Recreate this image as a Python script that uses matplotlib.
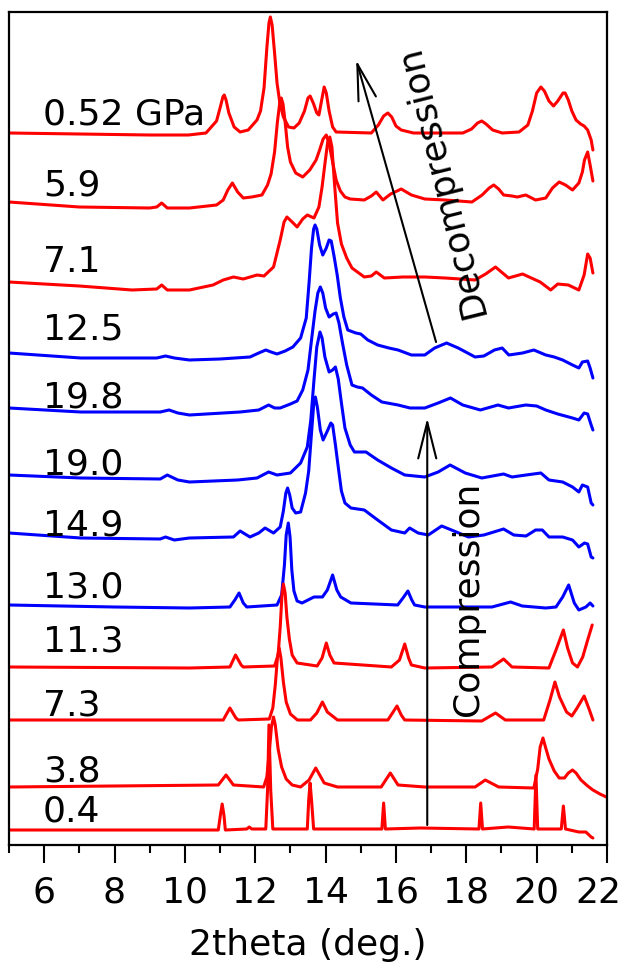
import matplotlib
matplotlib.use("Agg")
from matplotlib import pyplot as plt
from matplotlib.transforms import ScaledTranslation

plt.rcParams["font.family"] = ["DejaVu Sans"]

# pressure labels (top to bottom), colours and vertical offsets (a.u.)
labels = ["0.52 GPa", "5.9", "7.1", "12.5", "19.8", "19.0",
          "14.9", "13.0", "11.3", "7.3", "3.8", "0.4"]
colors = ["red", "red", "red", "blue", "blue", "blue",
          "blue", "blue", "red", "red", "red", "red"]
offsets = [712, 643, 563, 492, 437, 370, 312, 240, 178, 125, 58, 15]
label_y = [721, 650, 573, 505, 438, 371, 310, 247, 193, 130, 63, 23]

# 0.52 GPa (decompression)
tt_052 = [5.0, 7.0, 9.0, 10.1, 10.6, 10.9, 11.0, 11.08, 11.12, 11.17, 11.25, 11.4, 11.57,
          11.8, 12.05, 12.15, 12.25, 12.33, 12.39, 12.43, 12.48, 12.55, 12.62, 12.7, 12.8,
          12.95, 13.1, 13.25, 13.4, 13.5, 13.56, 13.65, 13.75, 13.81, 13.9, 13.96, 14.02,
          14.1, 14.2, 14.3, 15.3, 15.5, 15.65, 15.77, 15.88, 16.0, 16.15, 16.5, 17.9,
          18.15, 18.32, 18.44, 18.56, 18.75, 19.02, 19.5, 19.75, 19.88, 20.0, 20.12, 20.22,
          20.35, 20.48, 20.6, 20.75, 20.81, 20.9, 21.0, 21.12, 21.25, 21.35, 21.45, 21.55,
          21.6]
I_052 = [0, -1, -2, -2, 0, 12, 25, 36, 38, 33, 20, 6, 1,
         3, 13, 22, 45, 85, 110, 116, 108, 80, 50, 30, 16,
         6, 5, 10, 22, 35, 37, 30, 20, 18, 35, 46, 40,
         22, 6, 1, 0, 8, 17, 20, 16, 7, 3, 0, 0,
         4, 10, 12, 9, 3, 0, 1, 8, 22, 40, 46, 42,
         32, 27, 32, 40, 40, 33, 22, 13, 9, 7, 3, -7,
         -17]

# 5.9 GPa
tt_59 = [5.0, 7.0, 9.0, 9.2, 9.34, 9.5, 10.13, 10.9, 11.09, 11.22, 11.35, 11.5, 11.66,
         11.9, 12.19, 12.35, 12.45, 12.55, 12.63, 12.7, 12.74, 12.79, 12.85, 12.92, 13.0,
         13.15, 13.35, 13.55, 13.73, 13.83, 13.93, 14.02, 14.1, 14.2, 14.3, 14.42, 14.55,
         14.7, 15.1, 15.3, 15.44, 15.63, 15.85, 16.15, 16.44, 16.82, 17.4, 18.16, 18.45,
         18.65, 18.78, 18.92, 19.06, 19.3, 19.45, 19.69, 19.97, 20.26, 20.45, 20.64, 20.82,
         21.02, 21.2, 21.3, 21.36, 21.45, 21.52, 21.6]
I_59 = [0, -5, -6, -5, -1, -6, -6, -3, 2, 12, 19, 10, 4,
        5, 7, 17, 28, 50, 80, 100, 104, 98, 80, 55, 40,
        29, 25, 32, 42, 52, 63, 67, 58, 40, 22, 11, 5,
        3, 2, 6, 10, 2, 8, 13, 7, 3, 2, 0, 7,
        14, 17, 13, 7, 6, 5, 7, 2, 4, 14, 20, 17,
        12, 19, 30, 42, 50, 37, 21]

# 7.1 GPa
tt_71 = [5.0, 7.0, 8.5, 9.2, 9.34, 9.5, 10.13, 10.8, 11.09, 11.38, 11.66, 12.05, 12.25,
         12.52, 12.71, 12.82, 12.9, 13.05, 13.19, 13.35, 13.48, 13.67, 13.81, 13.9, 13.98,
         14.06, 14.12, 14.18, 14.25, 14.34, 14.45, 14.6, 14.75, 15.1, 15.3, 15.44, 15.67,
         16.2, 16.82, 17.4, 18.25, 18.55, 18.83, 19.2, 19.6, 20.1, 20.4, 20.6, 20.9,
         21.2, 21.35, 21.45, 21.52, 21.6]
I_71 = [0, -4, -8, -7, -3, -8, -8, -3, 2, 5, 3, 7, 6,
        15, 42, 60, 65, 60, 55, 63, 67, 64, 75, 95, 118,
        140, 145, 135, 100, 59, 38, 24, 14, 5, 6, 10, 4,
        5, 5, 4, 2, 8, 15, 4, 8, 0, -8, -2, -3,
        -8, 7, 28, 24, 9]

# 12.5 GPa
tt_125 = [5.0, 7.04, 9.2, 9.45, 9.7, 10.13, 11.0, 11.85, 12.1, 12.3, 12.45, 12.62, 12.85,
          13.07, 13.29, 13.45, 13.53, 13.6, 13.66, 13.7, 13.75, 13.83, 13.92, 14.02, 14.1,
          14.16, 14.24, 14.33, 14.42, 14.52, 14.63, 14.86, 15.0, 15.2, 15.48, 15.8, 16.06,
          16.44, 16.82, 17.1, 17.44, 17.77, 18.25, 18.5, 18.8, 19.02, 19.21, 19.6, 19.92,
          20.26, 20.5, 20.74, 21.02, 21.2, 21.3, 21.45, 21.52, 21.6]
I_125 = [0, -5, -5, -3, -5, -7, -6, -4, 0, 3, 1, -1, 2,
         6, 15, 35, 70, 105, 124, 128, 124, 108, 98, 105, 113,
         112, 97, 78, 55, 36, 23, 20, 19, 13, 8, 5, 3,
         -2, -2, 5, 10, 5, -4, -3, 3, 5, -2, 0, 3,
         -2, -4, -7, -12, -15, -9, -8, -15, -25]

# 19.8 GPa
tt_198 = [5.0, 7.04, 9.3, 9.55, 9.8, 10.13, 11.57, 12.1, 12.38, 12.55, 12.71, 13.0, 13.19,
          13.35, 13.5, 13.6, 13.7, 13.78, 13.85, 13.92, 14.0, 14.1, 14.22, 14.3, 14.38,
          14.48, 14.6, 14.75, 14.9, 15.05, 15.3, 15.6, 16.06, 16.4, 16.82, 17.2, 17.55,
          17.9, 18.4, 18.9, 19.2, 19.69, 20.0, 20.26, 20.6, 21.02, 21.2, 21.35, 21.45,
          21.55, 21.6]
I_198 = [0, -4, -4, -2, -5, -7, -4, -2, 3, 0, 0, 4, 7,
         18, 38, 68, 97, 115, 121, 115, 100, 91, 94, 95, 85,
         65, 43, 23, 21, 20, 13, 6, 3, 0, 0, 5, 10,
         3, -2, 3, 0, 3, 2, -2, -6, -10, -12, -5, -6,
         -17, -22]

# 19.0 GPa (decompression start)
tt_190 = [5.0, 7.04, 9.3, 9.5, 9.8, 10.13, 11.5, 12.05, 12.38, 12.62, 13.0, 13.29, 13.48,
          13.58, 13.67, 13.75, 13.84, 13.9, 13.98, 14.1, 14.2, 14.28, 14.36, 14.45, 14.55,
          14.7, 14.82, 15.15, 15.48, 15.87, 16.25, 16.82, 17.2, 17.54, 17.97, 18.44, 19.06,
          19.3, 19.7, 20.12, 20.35, 20.74, 21.02, 21.2, 21.3, 21.45, 21.55, 21.6]
I_190 = [0, -3, -4, 0, -5, -7, -5, -3, 3, 0, 2, 12, 28,
         55, 95, 128, 143, 137, 118, 103, 105, 108, 96, 72, 47,
         30, 23, 23, 15, 7, 0, -2, 3, 10, 2, -3, 1,
         -2, 0, 2, -5, -7, -12, -17, -10, -12, -28, -30]

# 14.9 GPa
tt_149 = [5.0, 7.04, 9.3, 9.45, 9.7, 10.13, 11.38, 11.57, 11.85, 12.1, 12.28, 12.52, 12.71,
          12.8, 12.87, 12.92, 12.98, 13.05, 13.15, 13.29, 13.43, 13.52, 13.6, 13.66, 13.71,
          13.77, 13.85, 13.93, 14.05, 14.15, 14.2, 14.28, 14.36, 14.45, 14.55, 14.72, 15.1,
          15.48, 15.87, 16.25, 16.39, 16.63, 16.92, 17.3, 17.58, 18.06, 18.5, 19.06, 19.35,
          19.7, 19.97, 20.16, 20.35, 20.74, 21.02, 21.2, 21.36, 21.45, 21.55, 21.6]
I_149 = [0, -5, -6, -4, -7, -5, -4, 2, -4, 0, 5, 0, 6,
         22, 40, 45, 38, 25, 20, 21, 40, 62, 100, 128, 136,
         125, 103, 93, 102, 110, 108, 88, 66, 42, 30, 25, 23,
         13, 3, 0, 5, 0, -2, 7, 3, -4, -2, 4, -2,
         -3, 3, 3, -4, -4, -7, -14, -10, -11, -24, -25]

# 13.0 GPa
tt_130 = [5.0, 8.0, 10.13, 11.28, 11.42, 11.54, 11.66, 11.76, 12.62, 12.75, 12.83, 12.88,
          12.94, 12.99, 13.04, 13.1, 13.19, 13.33, 13.67, 13.91, 14.05, 14.2, 14.32, 14.43,
          14.72, 16.05, 16.2, 16.34, 16.45, 16.53, 16.82, 18.73, 19.26, 19.59, 20.26, 20.55,
          20.74, 20.91, 21.07, 21.2, 21.4, 21.52, 21.6]
I_130 = [0, -2, -3, -2, 5, 12, 2, -2, 0, 10, 40, 70,
         82, 68, 35, 14, 4, 2, 8, 8, 15, 30, 15, 8,
         2, 0, 7, 14, 5, 0, -2, -2, 3, -1, -3, -2,
         8, 20, 2, -5, -2, 2, -1]

# 11.3 GPa
tt_113 = [5.0, 10.13, 11.28, 11.44, 11.6, 11.66, 12.55, 12.65, 12.71, 12.76, 12.8, 12.85,
          12.9, 12.97, 13.05, 13.19, 13.76, 13.9, 14.02, 14.12, 14.24, 15.87, 16.1, 16.25,
          16.36, 16.44, 16.82, 18.73, 19.06, 19.3, 20.35, 20.55, 20.76, 20.88, 21.02, 21.16,
          21.31, 21.45, 21.58]
I_113 = [0, -1, 0, 12, 2, 0, 1, 12, 40, 72, 83, 74,
         50, 28, 12, 4, 1, 9, 24, 12, 4, 0, 7, 23,
         9, 2, -1, 0, 8, 0, -1, 17, 37, 19, 4, 0,
         10, 27, 42]

# 7.3 GPa
tt_73 = [5.0, 11.09, 11.28, 11.45, 11.52, 12.4, 12.5, 12.57, 12.63, 12.68, 12.73, 12.8,
         12.88, 13.0, 13.2, 13.57, 13.75, 13.91, 14.05, 14.34, 15.77, 15.92, 16.03, 16.15,
         16.25, 18.44, 18.83, 19.11, 20.2, 20.38, 20.52, 20.65, 20.85, 21.0, 21.15, 21.35,
         21.5, 21.6]
I_73 = [0, 0, 12, 2, 0, 1, 12, 35, 62, 72, 62, 38,
        18, 6, 0, 0, 7, 18, 8, 0, 0, 8, 14, 5,
        0, -1, 7, 0, 0, 20, 38, 23, 8, 4, 12, 24,
        10, 0]

# 3.8 GPa
tt_38 = [5.0, 10.95, 11.17, 11.38, 12.24, 12.33, 12.4, 12.46, 12.52, 12.57, 12.65, 12.75,
         12.88, 13.05, 13.29, 13.53, 13.72, 13.96, 14.34, 15.58, 15.84, 16.06, 16.82, 18.25,
         18.54, 18.92, 19.92, 20.03, 20.1, 20.18, 20.25, 20.35, 20.5, 20.64, 20.79, 20.9,
         21.02, 21.12, 21.26, 21.45, 21.6, 21.8, 21.98]
I_38 = [0, 2, 12, 2, 0, 10, 35, 60, 70, 62, 38, 20,
        8, 2, 0, 7, 19, 4, 0, 0, 14, 2, 0, 0,
        7, 0, -1, 18, 40, 49, 40, 28, 16, 9, 9, 14,
        17, 14, 7, 1, -3, -7, -10]

# 0.4 GPa
tt_04 = [5.0, 10.95, 11.01, 11.06, 11.11, 11.15, 11.76, 11.83, 11.9, 12.3, 12.35, 12.39,
         12.44, 12.5, 13.48, 13.52, 13.56, 13.6, 13.66, 15.6, 15.65, 15.7, 16.7, 18.36,
         18.41, 18.46, 19.19, 19.93, 19.98, 20.03, 20.7, 20.76, 20.82, 21.2, 21.4, 21.55,
         21.6]
I_04 = [0, 0, 15, 26, 15, 0, 1, 3, 1, 1, 40, 105,
        40, 1, 1, 30, 47, 30, 1, 1, 27, 1, 2, 1,
        27, 1, 3, 1, 55, 1, 1, 24, 1, -2, -2, -7,
        -8]

two_theta = [tt_052, tt_59, tt_71, tt_125, tt_198, tt_190,
             tt_149, tt_130, tt_113, tt_73, tt_38, tt_04]
intensity = [I_052, I_59, I_71, I_125, I_198, I_190,
             I_149, I_130, I_113, I_73, I_38, I_04]

fig = plt.figure(figsize=(6.28, 9.67), dpi=100)
ax = fig.add_axes([9 / 628, 122 / 967, 598 / 628, 833 / 967])

for tt, inten, off, col in zip(two_theta, intensity, offsets, colors):
    ax.plot(tt, [off + v for v in inten], color=col, lw=2.2,
            solid_joinstyle="round", solid_capstyle="round")

for lab, ly in zip(labels, label_y):
    ax.text(5.97, ly, lab, fontsize=26, ha="left", va="baseline")

# compression / decompression arrows
ax.annotate("", xy=(16.89, 427), xytext=(16.89, 20),
            arrowprops=dict(arrowstyle="->, head_length=2.6, head_width=0.65",
                            lw=1.5, color="black", shrinkA=0, shrinkB=0))
ax.annotate("", xy=(14.87, 785), xytext=(17.14, 503),
            arrowprops=dict(arrowstyle="->, head_length=2.6, head_width=0.65",
                            lw=1.5, color="black", shrinkA=0, shrinkB=0))
ax.text(18.05, 246, "Compression", fontsize=26, rotation=90,
        ha="center", va="center", rotation_mode="anchor")
ax.text(17.3, 664, "Decompression", fontsize=26, rotation=104,
        ha="center", va="center", rotation_mode="anchor")

ax.set_xlim(5, 22)
ax.set_ylim(0, 833)
ax.set_xticks(range(6, 23, 2))
ax.set_xticks(range(5, 22, 2), minor=True)
ax.set_yticks([])
ax.tick_params(axis="x", which="major", direction="out", length=13, width=1.5,
               labelsize=26, pad=9)
ax.tick_params(axis="x", which="minor", direction="out", length=6, width=1.5)
for sp in ax.spines.values():
    sp.set_linewidth(1.6)
ax.set_xlabel("2theta (deg.)", fontsize=26, labelpad=13)

# keep the last tick label inside the figure
last = ax.xaxis.get_major_ticks()[-1].label1
last.set_transform(last.get_transform()
                   + ScaledTranslation(-6 / 72, 0, fig.dpi_scale_trans))

fig.savefig("out.png", dpi=100)
